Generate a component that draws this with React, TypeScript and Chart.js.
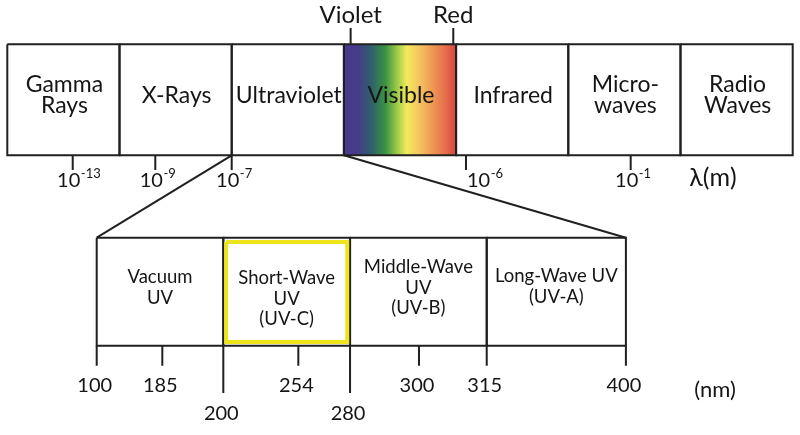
import React, { useEffect, useRef } from "react";
import { Chart, registerables } from "chart.js";

Chart.register(...registerables);

// ---------------- data ----------------
const SPECTRUM_BANDS = ["Gamma\nRays", "X-Rays", "Ultraviolet", "Visible", "Infrared", "Micro-\nwaves", "Radio\nWaves"];
const ZOOMED_BAND = 2; // Ultraviolet is expanded below
const VISIBLE_BAND = 3;
const WAVELENGTH_EXPONENTS = ["-13", "-9", "-7", "-6", "-1"];
// schematic (not to scale) position of each wavelength tick, in band units
const WAVELENGTH_TICK_POS = [0.583, 1.319, 2, 4.088, 5.556];
const WAVELENGTH_UNIT = "λ(m)";
const VISIBLE_LIMITS = ["Violet", "Red"];
const VISIBLE_LIMIT_POS = [3.06, 3.975];

const UV_BANDS = ["Vacuum\nUV", "Short-Wave\nUV\n(UV-C)", "Middle-Wave\nUV\n(UV-B)", "Long-Wave UV\n(UV-A)"];
const UV_EDGES_NM = [100, 200, 280, 315, 400];
const UV_MINOR_NM = [185, 254, 300];
const UV_UNIT = "(nm)";
const HIGHLIGHT_BAND = 1; // UV-C

// ---------------- layout / style ----------------
const W = 800;
const H = 435;
const FONT = 'Lato, "Open Sans", sans-serif';
const INK = "#151515";
const LINE = "#202020";
const YELLOW = "#eee41e";
const L = {
  topLeft: 7.3,
  topBandW: 112.2,
  topY0: 44.3,
  topY1: 155.3,
  topTickEnd: 170,
  limitTickTop: 28,
  uvLeft: 96.7,
  uvBandW: 132.3,
  uvY0: 237.7,
  uvY1: 345.7,
  uvTickShort: 365.7,
  uvTickLong: 393,
};
// schematic nm axis of the UV strip (not to scale)
const UV_AXIS_KNOTS_NM = [100, 185, 200, 254, 280, 300, 315, 400];
const UV_AXIS_KNOTS_POS = [0, 0.496, 0.957, 1.524, 1.915, 2.436, 2.948, 4];
const UV_LABEL_DY = [0, 11, 0, -1];
const VISIBLE_GRADIENT: [number, string][] = [
  [0, "#4a3a8c"],
  [0.13, "#453d89"],
  [0.25, "#30626a"],
  [0.37, "#3a9342"],
  [0.47, "#98c94a"],
  [0.56, "#f4ea5a"],
  [0.67, "#f4c560"],
  [0.79, "#ef9853"],
  [0.91, "#e56c4b"],
  [1, "#d8453f"],
];

const topX = (pos: number) => L.topLeft + pos * L.topBandW;
const uvX = (nm: number) => {
  for (let i = 0; i < UV_AXIS_KNOTS_NM.length - 1; i++) {
    const a = UV_AXIS_KNOTS_NM[i];
    const b = UV_AXIS_KNOTS_NM[i + 1];
    if (nm <= b || i === UV_AXIS_KNOTS_NM.length - 2) {
      const t = (nm - a) / (b - a);
      const p = UV_AXIS_KNOTS_POS[i] + t * (UV_AXIS_KNOTS_POS[i + 1] - UV_AXIS_KNOTS_POS[i]);
      return L.uvLeft + p * L.uvBandW;
    }
  }
  return L.uvLeft;
};

type P = { x: number; y: number };
const pt = (x: number, y: number): P => ({ x, y });
const rect = (x0: number, y0: number, x1: number, y1: number): P[] => [
  pt(x0, y0), pt(x1, y0), pt(x1, y1), pt(x0, y1), pt(x0, y0),
];

function lineDs(label: string, data: P[], color = LINE, width = 2, extra: any = {}) {
  return {
    label,
    data,
    showLine: true,
    borderColor: color,
    borderWidth: width,
    pointRadius: 0,
    pointHoverRadius: 0,
    fill: false,
    clip: false,
    tension: 0,
    borderJoinStyle: "miter",
    order: 0,
    ...extra,
  };
}

function buildDatasets() {
  const ds: any[] = [];
  // visible spectrum fill
  ds.push(
    lineDs(
      "Visible fill",
      rect(topX(VISIBLE_BAND), L.topY0, topX(VISIBLE_BAND + 1), L.topY1),
      "rgba(0,0,0,0)",
      0,
      {
        fill: "shape",
        order: 10,
        backgroundColor: (c: any) => {
          const chart = c.chart;
          const xs = chart.scales && chart.scales.x;
          if (!xs || !chart.chartArea) return "rgba(0,0,0,0)";
          const g = chart.ctx.createLinearGradient(
            xs.getPixelForValue(topX(VISIBLE_BAND)), 0,
            xs.getPixelForValue(topX(VISIBLE_BAND + 1)), 0
          );
          VISIBLE_GRADIENT.forEach(([o, col]) => g.addColorStop(o, col));
          return g;
        },
      }
    )
  );
  // spectrum boxes
  SPECTRUM_BANDS.forEach((b, i) => {
    ds.push(lineDs(b, rect(topX(i), L.topY0, topX(i + 1), L.topY1)));
  });
  // wavelength ticks
  WAVELENGTH_TICK_POS.forEach((p, i) => {
    ds.push(lineDs("10^" + WAVELENGTH_EXPONENTS[i], [pt(topX(p), L.topY1), pt(topX(p), L.topTickEnd)]));
  });
  // violet / red marks
  VISIBLE_LIMIT_POS.forEach((p, i) => {
    ds.push(lineDs(VISIBLE_LIMITS[i], [pt(topX(p), L.limitTickTop), pt(topX(p), L.topY0)]));
  });
  // zoom connectors
  ds.push(lineDs("zoom-left", [pt(topX(ZOOMED_BAND), L.topY1), pt(uvX(UV_EDGES_NM[0]), L.uvY0)]));
  ds.push(
    lineDs("zoom-right", [
      pt(topX(ZOOMED_BAND + 1), L.topY1),
      pt(uvX(UV_EDGES_NM[UV_EDGES_NM.length - 1]), L.uvY0),
    ])
  );
  // UV boxes
  UV_BANDS.forEach((b, i) => {
    ds.push(lineDs(b, rect(uvX(UV_EDGES_NM[i]), L.uvY0, uvX(UV_EDGES_NM[i + 1]), L.uvY1)));
  });
  // highlight
  const hx0 = uvX(UV_EDGES_NM[HIGHLIGHT_BAND]) + 2.8;
  const hx1 = uvX(UV_EDGES_NM[HIGHLIGHT_BAND + 1]) - 2.8;
  ds.push(lineDs("highlight", rect(hx0, L.uvY0 + 4.3, hx1, L.uvY1 - 3.8), YELLOW, 4, { order: -1 }));
  // UV edge ticks
  UV_EDGES_NM.forEach((nm, i) => {
    const dropped = i === HIGHLIGHT_BAND || i === HIGHLIGHT_BAND + 1;
    ds.push(lineDs(nm + "nm", [pt(uvX(nm), L.uvY1), pt(uvX(nm), dropped ? L.uvTickLong : L.uvTickShort)]));
  });
  UV_MINOR_NM.forEach((nm) => {
    ds.push(lineDs(nm + "nm", [pt(uvX(nm), L.uvY1), pt(uvX(nm), L.uvTickShort)]));
  });
  return ds;
}

const textPlugin = {
  id: "diagramText",
  afterDatasetsDraw(chart: any) {
    const ctx: CanvasRenderingContext2D = chart.ctx;
    const xs = chart.scales.x;
    const ys = chart.scales.y;
    const X = (v: number) => xs.getPixelForValue(v);
    const Y = (v: number) => ys.getPixelForValue(v);
    ctx.save();
    ctx.fillStyle = INK;
    ctx.textBaseline = "alphabetic";

    const block = (text: string, cx: number, centerBase: number, lh: number, size: number) => {
      const lines = text.split("\n");
      ctx.font = `${size}px ${FONT}`;
      ctx.textAlign = "center";
      lines.forEach((ln, i) => {
        const b = centerBase + (i - (lines.length - 1) / 2) * lh;
        ctx.fillText(ln, X(cx), Y(b));
      });
    };

    // spectrum band labels
    SPECTRUM_BANDS.forEach((b, i) => block(b, topX(i + 0.5) + 1, 102.5, 20.5, 23));
    // violet / red
    VISIBLE_LIMITS.forEach((t, i) => block(t, topX(VISIBLE_LIMIT_POS[i]), 23, 20, 24));

    // wavelength tick labels 10^x
    WAVELENGTH_EXPONENTS.forEach((e, i) => {
      const tx = topX(WAVELENGTH_TICK_POS[i]);
      ctx.font = `20px ${FONT}`;
      const wb = ctx.measureText("10").width;
      const left = e === "-6" ? tx + 1 : tx - 4 - wb / 2;
      ctx.textAlign = "left";
      ctx.fillText("10", X(left), Y(186.7));
      ctx.font = `13px ${FONT}`;
      ctx.fillText(e, X(left + wb + 0.5), Y(178));
    });
    ctx.font = `25px ${FONT}`;
    ctx.textAlign = "center";
    ctx.fillText(WAVELENGTH_UNIT, X(713), Y(185.5));

    // UV band labels
    UV_BANDS.forEach((b, i) => {
      const cx = (uvX(UV_EDGES_NM[i]) + uvX(UV_EDGES_NM[i + 1])) / 2;
      block(b, cx, 293.5 + UV_LABEL_DY[i], 20.5, 18.5);
    });

    // nm tick labels
    ctx.font = `20px ${FONT}`;
    ctx.textAlign = "center";
    UV_EDGES_NM.forEach((nm, i) => {
      const dropped = i === HIGHLIGHT_BAND || i === HIGHLIGHT_BAND + 1;
      ctx.fillText(String(nm), X(uvX(nm) - 2), Y(dropped ? 420 : 391.7));
    });
    UV_MINOR_NM.forEach((nm) => {
      ctx.fillText(String(nm), X(uvX(nm) - 2), Y(391.7));
    });
    ctx.font = `22px ${FONT}`;
    ctx.fillText(UV_UNIT, X(715), Y(397));
    ctx.restore();
  },
};

export default function App() {
  const ref = useRef<HTMLCanvasElement | null>(null);
  useEffect(() => {
    document.body.style.margin = "0";
    const canvas = ref.current;
    if (!canvas) return;
    const chart = new Chart(canvas, {
      type: "scatter",
      data: { datasets: buildDatasets() },
      options: {
        responsive: false,
        devicePixelRatio: 1,
        animation: false,
        events: [],
        layout: { padding: 0 },
        plugins: { legend: { display: false }, tooltip: { enabled: false } },
        scales: {
          x: { type: "linear", display: false, min: 0, max: W },
          y: { type: "linear", display: false, min: 0, max: H, reverse: true },
        },
      },
      plugins: [textPlugin],
    } as any);
    return () => chart.destroy();
  }, []);
  return (
    <div style={{ width: W, height: H, background: "#fff" }}>
      <canvas ref={ref} width={W} height={H} style={{ display: "block" }} />
    </div>
  );
}
